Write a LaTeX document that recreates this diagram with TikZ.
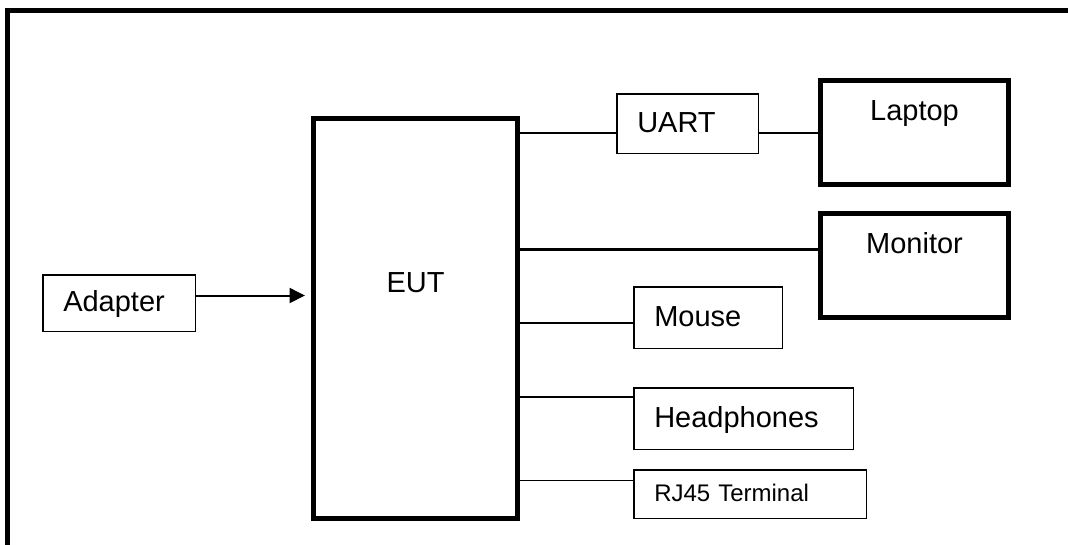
\documentclass[tikz,border=0pt]{standalone}
\usepackage{fontspec}
\setmainfont{Liberation Sans}
\usetikzlibrary{arrows.meta, positioning}
\tikzset{
  dev/.style  = {rectangle, draw, line width=1.5pt, anchor=north west,
                 outer sep=0pt, inner xsep=20.5pt, inner ysep=0pt, align=left,
                 font=\fontsize{29}{34}\selectfont,
                 text height=20.8pt, text depth=2.9pt},
  big/.style  = {rectangle, draw, line width=5pt, anchor=north west,
                 outer sep=0pt, inner sep=0pt},
  lbl/.style  = {inner sep=0pt, outer sep=0pt, anchor=north,
                 font=\fontsize{29}{34}\selectfont,
                 text height=20.8pt, text depth=0pt},
  ln/.style   = {line width=1.4pt},
  lnb/.style  = {line width=2.2pt},
  arr/.style  = {-{Triangle[length=15.5pt, width=15pt]}, line width=2pt},
}
\begin{document}
\begin{tikzpicture}[x=1pt, y=-1pt]

  \useasboundingbox (0,0) rectangle (1068,544);
  \clip (0,0) rectangle (1068,544);
  % outer frame runs off the page
  \draw[line width=5pt] (7,10) rectangle (1100,600);

  \node[dev, minimum width=152.5pt, minimum height=56.5pt, text width=111.5pt]
    (adapter) at (42.75,274.75) {Adapter};
  \node[big, minimum width=204pt, minimum height=400pt] (eut) at (313.5,118) {};
  \node[lbl, below=154pt of eut.north] (euttxt) {EUT};

  \node[dev, minimum width=141.5pt, minimum height=59.5pt, text width=100.5pt]
    (uart) at (616.75,93.75) {UART};
  \node[big, minimum width=188pt, minimum height=104pt] (laptop) at (820.5,80.5) {};
  \node[lbl, below=19.5pt of laptop.north] (laptoptxt) {Laptop};
  \node[big, minimum width=188pt, minimum height=104pt] (monitor) at (820.5,213.5) {};
  \node[lbl, below=19.5pt of monitor.north] (monitortxt) {Monitor};

  \node[dev, minimum width=148.5pt, minimum height=61.5pt, text width=107.5pt]
    (mouse) at (633.75,286.75) {Mouse};
  \node[dev, minimum width=219.5pt, minimum height=61.5pt, text width=178.5pt]
    (phones) at (633.75,387.75) {Headphones};
  \node[dev, minimum width=232.5pt, minimum height=48.5pt, text width=191.5pt,
        font=\fontsize{24}{28}\selectfont, text height=17.2pt, text depth=2.4pt]
    (rj45) at (633.75,469.75) {RJ45 Terminal};

  \draw[arr, shorten >=8.5pt] (adapter.east |- 0,295.5) -- (eut.west |- 0,295.5);

  % cables out of the EUT
  \draw[ln]  (eut.east |- 0,133)   -- (uart.west |- 0,133);
  \draw[ln]  (uart.east |- 0,133)  -- (laptop.west |- 0,133);
  \draw[lnb] (eut.east |- 0,249.5) -- (monitor.west |- 0,249.5);
  \draw[ln]  (eut.east |- 0,323)   -- (mouse.west |- 0,323);
  \draw[lnb] (eut.east |- 0,397)   -- (phones.west |- 0,397);
  \draw[ln]  (eut.east |- 0,480.5) -- (rj45.west |- 0,480.5);

\end{tikzpicture}
\end{document}
